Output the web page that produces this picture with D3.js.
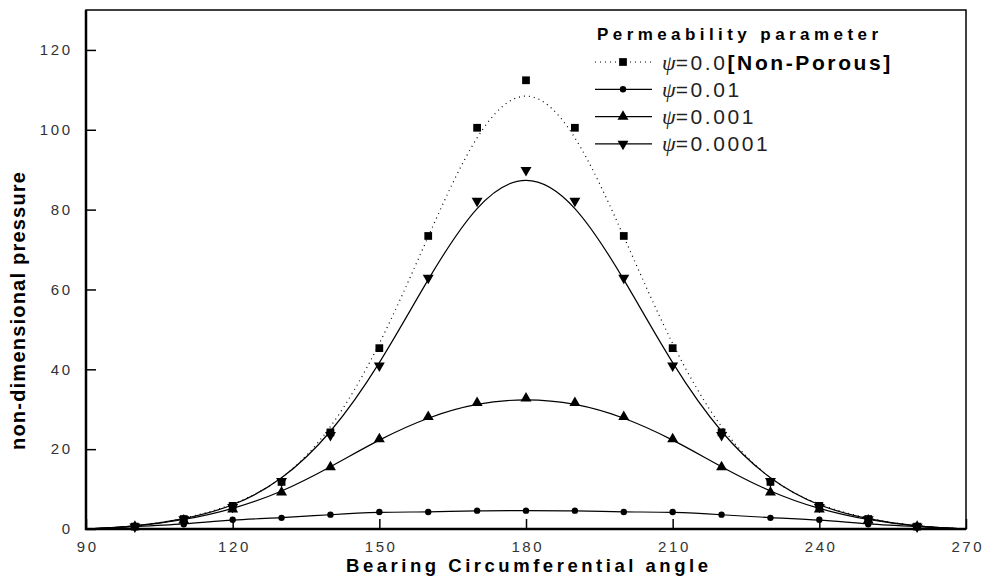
<!DOCTYPE html>
<meta charset='utf-8'>
<head>
    <title>Pressure distribution</title>
    <script src='https://d3js.org/d3.v7.min.js'></script>
</head>

<style>
    body { margin: 0; background: #fff; }
    .tick text { font-family: 'Liberation Sans', Arial, sans-serif; font-size: 15px; fill: #333; letter-spacing: 2.6px; }
    .tick line { stroke: #000; stroke-width: 1.5px; }
    .domain { display: none; }
</style>

<svg></svg>

<script>
    // data
    var angles = [90, 100, 110, 120, 130, 140, 150, 160, 170, 180, 190, 200, 210, 220, 230, 240, 250, 260, 270];
    var nonPorous = [0, 0.6, 2.5, 5.8, 11.8, 24.2, 45.3, 73.4, 100.5, 112.4, 100.5, 73.4, 45.3, 24.2, 11.8, 5.8, 2.5, 0.6, 0];
    var psi01 = [0, 0.6, 1.2, 2.3, 2.8, 3.6, 4.25, 4.25, 4.6, 4.6, 4.6, 4.25, 4.25, 3.6, 2.8, 2.3, 1.2, 0.6, 0];
    var psi001 = [0, 0.6, 2.2, 4.9, 9.2, 15.5, 22.5, 28.1, 31.6, 32.7, 31.6, 28.1, 22.5, 15.5, 9.2, 4.9, 2.2, 0.6, 0];
    var psi0001 = [0, 0.6, 2.4, 5.5, 12.0, 23.5, 40.9, 62.9, 82.2, 89.9, 82.2, 62.9, 40.9, 23.5, 12.0, 5.5, 2.4, 0.6, 0];
    var xTicks = [90, 120, 150, 180, 210, 240, 270];
    var yTicks = [0, 20, 40, 60, 80, 100, 120];
    var psiValues = ['0.0', '0.01', '0.001', '0.0001'];

    var vWidth = 988, vHeight = 579;
    var pLeft = 86, pRight = 966, pTop = 10, pBottom = 529;

    var series = [
        { values: nonPorous, symbol: d3.symbolSquare, size: 60, dash: '1,4', rot: 0 },
        { values: psi01, symbol: d3.symbolCircle, size: 32, dash: null, rot: 0 },
        { values: psi001, symbol: d3.symbolTriangle, size: 52, dash: null, rot: 0 },
        { values: psi0001, symbol: d3.symbolTriangle, size: 52, dash: null, rot: 180 }
    ];

    var svg = d3.select('svg').attr('width', vWidth).attr('height', vHeight);

    var x = d3.scaleLinear().domain([90, 270]).range([pLeft, pRight]);
    var y = d3.scaleLinear().domain([0, 130]).range([pBottom, pTop]);

    // axes, ticks pointing inwards
    svg.append('g').attr('transform', 'translate(0,' + pBottom + ')')
        .call(d3.axisBottom(x).tickValues(xTicks).tickSizeInner(-10).tickSizeOuter(0).tickPadding(12))
        .selectAll('.tick text').attr('dx', '1.3px');
    svg.append('g').attr('transform', 'translate(' + pLeft + ',0)')
        .call(d3.axisLeft(y).tickValues(yTicks).tickSizeInner(-10).tickSizeOuter(0).tickPadding(16))
        .selectAll('.tick text').attr('dx', '2.6px');

    // frame
    svg.append('rect').attr('x', pLeft).attr('y', pTop)
        .attr('width', pRight - pLeft).attr('height', pBottom - pTop)
        .attr('fill', 'none').attr('stroke', '#000').attr('stroke-width', 1.5);
    svg.append('path').attr('d', 'M' + pLeft + ',' + pTop + 'V' + pBottom + 'H' + pRight)
        .attr('fill', 'none').attr('stroke', '#000').attr('stroke-width', 2.5);

    var line = d3.line()
        .x(function (d, i) { return x(angles[i]); })
        .y(function (d) { return y(d); })
        .curve(d3.curveBasis);

    series.forEach(function (s) {
        svg.append('path').attr('d', line(s.values))
            .attr('fill', 'none').attr('stroke', '#000').attr('stroke-width', 1.2)
            .attr('stroke-dasharray', s.dash);
        svg.selectAll(null).data(s.values.filter(function (d, i) { return angles[i] > 90 && angles[i] < 270; }))
            .enter().append('path')
            .attr('d', d3.symbol().type(s.symbol).size(s.size))
            .attr('transform', function (d, i) { return 'translate(' + x(angles[i + 1]) + ',' + y(d) + ') rotate(' + s.rot + ')'; })
            .attr('fill', '#000');
    });

    // axis titles
    svg.append('text').attr('x', 527).attr('y', 572).attr('text-anchor', 'middle')
        .attr('textLength', 362).attr('lengthAdjust', 'spacing')
        .style('font', 'bold 18.5px "Liberation Sans", Arial, sans-serif')
        .text('Bearing Circumferential angle');
    svg.append('text').attr('transform', 'translate(25,311) rotate(-90)').attr('text-anchor', 'middle')
        .attr('textLength', 278).attr('lengthAdjust', 'spacing')
        .style('font', 'bold 20px "Liberation Sans", Arial, sans-serif')
        .text('non-dimensional pressure');

    // legend
    var lg = svg.append('g');
    lg.append('text').attr('x', 597).attr('y', 40)
        .attr('textLength', 281).attr('lengthAdjust', 'spacing')
        .style('font', 'bold 17px "Liberation Sans", Arial, sans-serif')
        .text('Permeability parameter');
    series.forEach(function (s, i) {
        var ry = 62 + i * 27.3;
        lg.append('line').attr('x1', 595).attr('x2', 652).attr('y1', ry).attr('y2', ry)
            .attr('stroke', '#000').attr('stroke-width', 1.2).attr('stroke-dasharray', s.dash);
        lg.append('path').attr('d', d3.symbol().type(s.symbol).size(s.size))
            .attr('transform', 'translate(623,' + ry + ') rotate(' + s.rot + ')').attr('fill', '#000');
        var t = lg.append('text').attr('x', 662).attr('y', ry + 7.5)
            .style('font', '21px "Liberation Sans", Arial, sans-serif').attr('fill', '#222');
        t.append('tspan').style('font', 'italic 22px "Liberation Serif", serif').text('\u03c8');
        t.append('tspan').style('letter-spacing', '2.6px').text('=' + psiValues[i]);
        if (i === 0) {
            t.append('tspan').style('font-weight', 'bold').style('letter-spacing', '2.6px').attr('fill', '#000').text('[Non-Porous]');
        }
    });
</script>
